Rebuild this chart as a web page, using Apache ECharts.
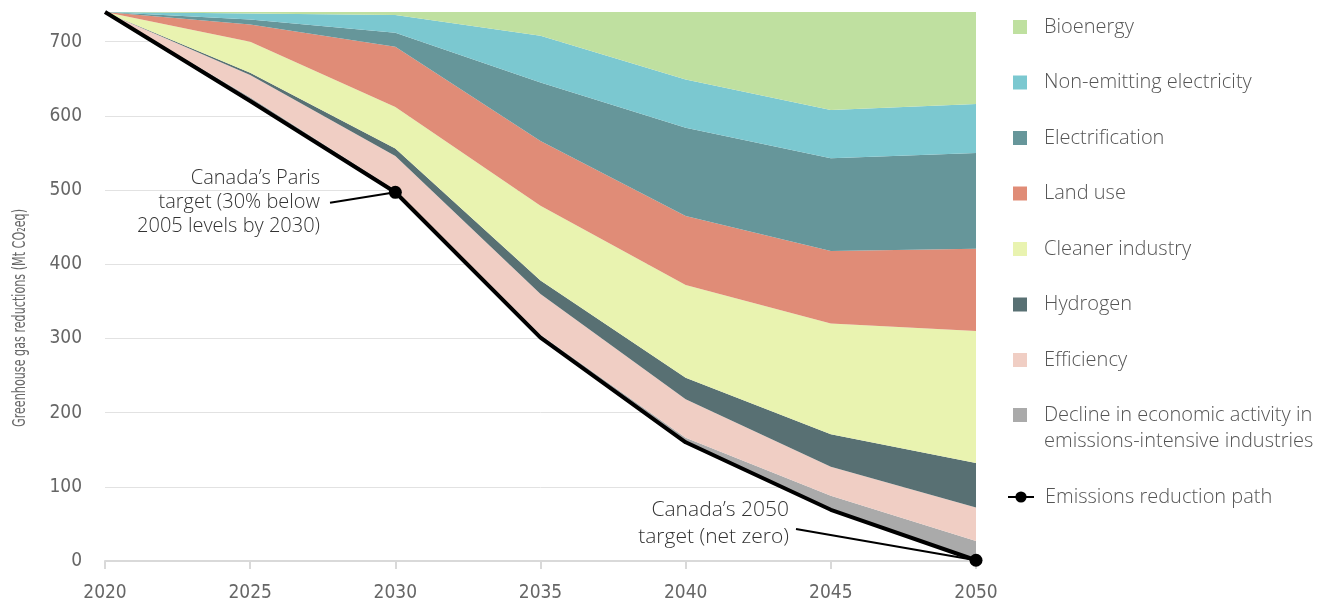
<!DOCTYPE html>
<html>
<head>
<meta charset="utf-8">
<title>Emissions reduction path</title>
<script src="https://cdn.jsdelivr.net/npm/echarts@6/dist/echarts.min.js"></script>
<style>
  html, body { margin: 0; padding: 0; background: #fff; }
  #main { width: 1337px; height: 606px; }
</style>
</head>
<body>
<div id="main"></div>
<script>
// years on the x axis
var years = ['2020', '2025', '2030', '2035', '2040', '2045', '2050'];
var yTicks = [0, 100, 200, 300, 400, 500, 600, 700];

// emissions reduction path (bottom of the stack), Mt CO2eq
var pathValues = [740, 620, 497, 301, 160, 69, 1];

// size of each measure, stacked on top of the path
var declineValues      = [0, 5, 3, 4, 6, 19, 26];
var efficiencyValues   = [0, 30, 46, 55, 52, 39, 45];
var hydrogenValues     = [0, 3, 10, 18, 29, 44, 60];
var cleanerValues      = [0, 42, 56, 101, 125, 149, 178];
var landUseValues      = [0, 23, 81, 87, 93, 98, 111];
var electrifyValues    = [0, 7, 19, 79, 119, 125, 129];
var nonEmittingValues  = [0, 8, 24, 63, 65, 65, 66];
var bioenergyValues    = [0, 2, 4, 32, 91, 132, 124];

// targets and where their leader lines start: [year, Mt]
var parisTarget = [2030, 497];
var netZeroTarget = [2050, 1];
var parisLabelAt = [2027.75, 483];
var netZeroLabelAt = [2043.8, 43];

var labelFont = "'Liberation Sans Narrow', 'DejaVu Sans Condensed', 'Roboto', sans-serif";
var textFont = "'Open Sans', 'Noto Sans', sans-serif";

function layer(name, values, color) {
    return {
        name: name,
        type: 'line',
        stack: 'measures',
        data: values,
        symbol: 'none',
        lineStyle: { width: 0 },
        areaStyle: { color: color, opacity: 1 },
        itemStyle: { color: color },
        silent: true
    };
}

var myChart = echarts.init(document.getElementById('main'));

var legendText = { fontFamily: textFont, fontSize: 20, fontWeight: 300, color: '#555', lineHeight: 26 };

var option = {
    animation: false,
    grid: { left: 105, right: 361, top: 12, bottom: 45 },
    legend: [{
        left: 1013, top: 14, padding: 0,
        orient: 'vertical',
        itemGap: 29.5, itemWidth: 14, itemHeight: 14, icon: 'rect',
        selectedMode: false,
        textStyle: Object.assign({}, legendText, { padding: [0, 0, 0, 12] }),
        data: ['Bioenergy', 'Non-emitting electricity', 'Electrification', 'Land use',
               'Cleaner industry', 'Hydrogen', 'Efficiency']
    }, {
        // empty first line keeps the square level with the first line of text
        left: 1013, top: 376, padding: 0,
        orient: 'vertical',
        itemWidth: 14, itemHeight: 14, icon: 'rect',
        selectedMode: false,
        formatter: function (name) { return '\n' + name; },
        textStyle: Object.assign({}, legendText, { padding: [0, 0, 0, 12] }),
        data: ['Decline in economic activity in\nemissions-intensive industries']
    }, {
        left: 1007, top: 484, padding: 0,
        orient: 'vertical',
        itemWidth: 26, itemHeight: 14,
        selectedMode: false,
        textStyle: Object.assign({}, legendText, { padding: [0, 0, 0, 6] }),
        data: ['Emissions reduction path']
    }],
    xAxis: [{
        type: 'category',
        boundaryGap: false,
        data: years,
        axisLine: { show: true, lineStyle: { color: '#d9d9d9', width: 2 } },
        axisTick: { show: true, length: 8, alignWithLabel: true, lineStyle: { color: '#d9d9d9', width: 2 } },
        axisLabel: { fontFamily: labelFont, fontSize: 19, color: '#666', margin: 23 },
        splitLine: { show: false }
    }, {
        // hidden year axis used only for placing the annotations
        type: 'value',
        min: 2020, max: 2050,
        show: false
    }],
    yAxis: {
        type: 'value',
        min: 0, max: 740, interval: 100,
        axisLine: { show: false },
        axisTick: { show: false },
        axisLabel: {
            fontFamily: labelFont, fontSize: 19, color: '#666', margin: 23,
            showMaxLabel: false,
            formatter: function (v) { return yTicks.indexOf(v) >= 0 ? String(v) : ''; }
        },
        splitLine: { lineStyle: { color: '#e2e2e2', width: 1 } }
    },
    series: [
        {
            name: 'base',
            type: 'line',
            stack: 'measures',
            data: pathValues,
            symbol: 'none',
            lineStyle: { width: 0 },
            silent: true
        },
        layer('Decline in economic activity in\nemissions-intensive industries', declineValues, '#aaaaaa'),
        layer('Efficiency', efficiencyValues, '#f0cec4'),
        layer('Hydrogen', hydrogenValues, '#587073'),
        layer('Cleaner industry', cleanerValues, '#e9f3b0'),
        layer('Land use', landUseValues, '#e08c77'),
        layer('Electrification', electrifyValues, '#66969a'),
        layer('Non-emitting electricity', nonEmittingValues, '#7bc8d0'),
        layer('Bioenergy', bioenergyValues, '#bfe0a0'),
        {
            name: 'Emissions reduction path',
            type: 'line',
            data: pathValues,
            symbol: 'circle',
            symbolSize: 13,
            showSymbol: false,
            z: 5,
            lineStyle: { color: '#000', width: 4 },
            itemStyle: { color: '#000' }
        },
        {
            // leader lines and target dots
            name: 'targets',
            type: 'line',
            xAxisIndex: 1,
            data: [],
            z: 6,
            silent: true,
            markPoint: {
                symbol: 'circle',
                symbolSize: 13,
                silent: true,
                itemStyle: { color: '#000' },
                label: { show: false },
                data: [{ coord: parisTarget }, { coord: netZeroTarget }]
            },
            markLine: {
                symbol: 'none',
                silent: true,
                label: { show: false },
                lineStyle: { color: '#000', width: 2, type: 'solid' },
                data: [
                    [{ coord: parisLabelAt }, { coord: parisTarget }],
                    [{ coord: netZeroLabelAt }, { coord: netZeroTarget }]
                ]
            }
        }
    ]
};

myChart.setOption(option);

// annotation text placed next to the start of each leader line
var parisStart = myChart.convertToPixel({ xAxisIndex: 1, yAxisIndex: 0 }, parisLabelAt);
var netZeroStart = myChart.convertToPixel({ xAxisIndex: 1, yAxisIndex: 0 }, netZeroLabelAt);

myChart.setOption({
    graphic: [{
        type: 'text',
        x: 20, y: 318,
        rotation: Math.PI / 2,
        scaleX: 0.69,
        style: {
            text: 'Greenhouse gas reductions (Mt CO\u2082eq)',
            font: "18px " + labelFont,
            fill: '#666',
            align: 'center',
            verticalAlign: 'middle'
        }
    }, {
        type: 'text',
        x: parisStart[0] - 10, y: parisStart[1],
        style: {
            text: 'Canada\u2019s Paris\ntarget (30% below\n2005 levels by 2030)',
            font: "300 20px " + textFont,
            lineHeight: 24,
            fill: '#333',
            align: 'right',
            verticalAlign: 'middle'
        }
    }, {
        type: 'text',
        x: netZeroStart[0] - 7, y: netZeroStart[1] - 6,
        style: {
            text: 'Canada\u2019s 2050\ntarget (net zero)',
            font: "300 21px " + textFont,
            lineHeight: 27,
            fill: '#333',
            align: 'right',
            verticalAlign: 'middle'
        }
    }]
});
</script>
</body>
</html>
